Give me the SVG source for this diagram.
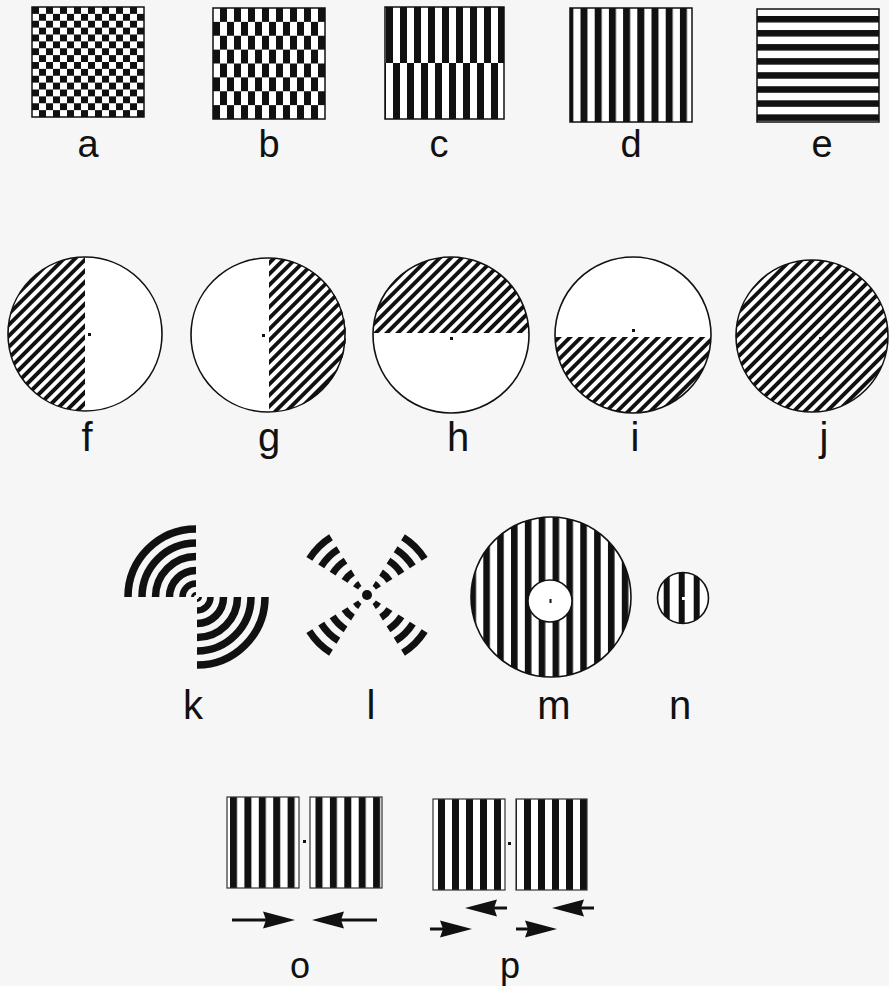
<svg xmlns="http://www.w3.org/2000/svg" width="889" height="986" viewBox="0 0 889 986">
<style>
.lbl{font-family:"Liberation Sans",Arial,sans-serif;fill:#111;text-anchor:middle}
.r1{font-size:38px}.r2{font-size:40px}.r3{font-size:40px}.r4{font-size:36px}
.box{stroke:#111;stroke-width:1.5}
.sq{stroke:#333;stroke-width:1.2}
.ring{fill:none;stroke:#111;stroke-width:7.5}
.circ{fill:none;stroke:#111;stroke-width:1.6}
.arr{stroke:#111;stroke-width:3;fill:none}
.dot{fill:#111}
</style>
<defs>
<pattern id="checkA" patternUnits="userSpaceOnUse" x="32" y="7" width="14" height="13.75">
<rect width="14" height="13.75" fill="#fff"/>
<rect width="7" height="6.875" fill="#111"/>
<rect x="7" y="6.875" width="7" height="6.875" fill="#111"/>
</pattern>
<pattern id="checkB" patternUnits="userSpaceOnUse" x="213" y="8" width="14" height="27.75">
<rect width="14" height="27.75" fill="#fff"/>
<rect x="7" width="7" height="13.875" fill="#111"/>
<rect y="13.875" width="7" height="13.875" fill="#111"/>
</pattern>
<pattern id="vsC1" patternUnits="userSpaceOnUse" x="386" y="0" width="14" height="10">
<rect width="14" height="10" fill="#fff"/><rect width="7" height="10" fill="#111"/>
</pattern>
<pattern id="vsC2" patternUnits="userSpaceOnUse" x="393" y="0" width="14" height="10">
<rect width="14" height="10" fill="#fff"/><rect width="7" height="10" fill="#111"/>
</pattern>
<pattern id="vsD" patternUnits="userSpaceOnUse" x="580.5" y="0" width="14.2" height="10">
<rect width="14.2" height="10" fill="#fff"/><rect width="7" height="10" fill="#111"/>
</pattern>
<pattern id="hsE" patternUnits="userSpaceOnUse" x="0" y="16" width="10" height="14.05">
<rect width="10" height="14.05" fill="#fff"/><rect width="10" height="6.5" fill="#111"/>
</pattern>
<pattern id="hatch" patternUnits="userSpaceOnUse" width="7.8" height="7.8" patternTransform="rotate(-45)">
<rect width="7.8" height="7.8" fill="#fff"/><rect width="7.8" height="3.9" fill="#111"/>
</pattern>
<pattern id="vsM" patternUnits="userSpaceOnUse" x="483.3" y="0" width="13.85" height="10">
<rect width="13.85" height="10" fill="#fff"/><rect width="6.6" height="10" fill="#111"/>
</pattern>
<pattern id="vsN" patternUnits="userSpaceOnUse" x="663.7" y="0" width="15" height="10">
<rect width="15" height="10" fill="#fff"/><rect width="6" height="10" fill="#111"/>
</pattern>
<pattern id="vsO1" patternUnits="userSpaceOnUse" x="230" y="0" width="14.4" height="10">
<rect width="14.4" height="10" fill="#fff"/><rect width="7" height="10" fill="#111"/>
</pattern>
<pattern id="vsO2" patternUnits="userSpaceOnUse" x="315.5" y="0" width="14.4" height="10">
<rect width="14.4" height="10" fill="#fff"/><rect width="7" height="10" fill="#111"/>
</pattern>
<pattern id="vsP1" patternUnits="userSpaceOnUse" x="438" y="0" width="14" height="10">
<rect width="14" height="10" fill="#fff"/><rect width="7" height="10" fill="#111"/>
</pattern>
<pattern id="vsP2" patternUnits="userSpaceOnUse" x="524" y="0" width="14" height="10">
<rect width="14" height="10" fill="#fff"/><rect width="7" height="10" fill="#111"/>
</pattern>
<marker id="ah" viewBox="0 0 32 18" refX="10" refY="9" markerWidth="32" markerHeight="18" markerUnits="userSpaceOnUse" orient="auto">
<path d="M0,0.5 L32,9 L0,17.5 L3,9 Z" fill="#111"/>
</marker>
<g id="quad">
<path class="ring" d="M-68,0 A68,68 0 0 1 0,-68"/>
<path class="ring" d="M-54,0 A54,54 0 0 1 0,-54"/>
<path class="ring" d="M-40.5,0 A40.5,40.5 0 0 1 0,-40.5"/>
<path class="ring" d="M-26.5,0 A26.5,26.5 0 0 1 0,-26.5"/>
<path class="ring" style="stroke-width:6.5" d="M-13.5,0 A13.5,13.5 0 0 1 0,-13.5"/>
<path class="ring" style="stroke-width:3" d="M-3.5,0 A3.5,3.5 0 0 1 0,-3.5"/>
</g>
<g id="arm">
<path class="ring" style="stroke-width:7" d="M57.67,36.03 A68,68 0 0 1 36.03,57.67"/>
<path class="ring" style="stroke-width:7" d="M45.79,28.62 A54,54 0 0 1 28.62,45.79"/>
<path class="ring" style="stroke-width:7" d="M34.35,21.46 A40.5,40.5 0 0 1 21.46,34.35"/>
<path class="ring" style="stroke-width:7" d="M22.47,14.04 A26.5,26.5 0 0 1 14.04,22.47"/>
<path class="ring" style="stroke-width:6" d="M11.45,7.15 A13.5,13.5 0 0 1 7.15,11.45"/>
</g>
</defs>
<rect width="889" height="986" fill="#f6f6f6"/>

<g id="node-a">
<rect class="box" x="32" y="7" width="112" height="110" fill="url(#checkA)"/>
<text class="lbl r1" x="88" y="157">a</text>
</g>
<g id="node-b">
<rect class="box" x="213" y="8" width="112" height="111" fill="url(#checkB)"/>
<text class="lbl r1" x="269" y="157">b</text>
</g>
<g id="node-c">
<rect x="385" y="7" width="119" height="56" fill="url(#vsC1)"/>
<rect x="385" y="63" width="119" height="56" fill="url(#vsC2)"/>
<rect class="box" x="385" y="7" width="119" height="112" fill="none"/>
<text class="lbl r1" x="439" y="157">c</text>
</g>
<g id="node-d">
<rect class="box" x="570" y="8" width="122" height="114" fill="url(#vsD)"/>
<text class="lbl r1" x="631" y="157">d</text>
</g>
<g id="node-e">
<rect class="box" x="757" y="9" width="122" height="113" fill="url(#hsE)"/>
<text class="lbl r1" x="822" y="157">e</text>
</g>

<g id="node-f">
<circle cx="85" cy="334" r="77" fill="#fff"/>
<path d="M85,257 A77,77 0 0 0 85,411 Z" fill="url(#hatch)"/>
<circle class="circ" cx="85" cy="334" r="77"/>
<rect class="dot" x="88" y="333" width="3" height="3"/>
<text class="lbl r2" x="87" y="451">f</text>
</g>
<g id="node-g">
<circle cx="268" cy="335" r="77" fill="#fff"/>
<path d="M269,258 A77,77 0 0 1 269,412 Z" fill="url(#hatch)"/>
<circle class="circ" cx="268" cy="335" r="77"/>
<rect class="dot" x="262" y="334" width="3" height="3"/>
<text class="lbl r2" x="269" y="451">g</text>
</g>
<g id="node-h">
<circle cx="451" cy="335" r="78" fill="#fff"/>
<path d="M373.03,333 A78,78 0 0 1 528.97,333 Z" fill="url(#hatch)"/>
<circle class="circ" cx="451" cy="335" r="78"/>
<rect class="dot" x="450" y="337" width="3" height="3"/>
<text class="lbl r2" x="458" y="451">h</text>
</g>
<g id="node-i">
<circle cx="633" cy="335" r="78" fill="#fff"/>
<path d="M710.97,337 A78,78 0 0 1 555.03,337 Z" fill="url(#hatch)"/>
<circle class="circ" cx="633" cy="335" r="78"/>
<rect class="dot" x="632" y="329" width="3" height="3"/>
<text class="lbl r2" x="635" y="451">i</text>
</g>
<g id="node-j">
<circle cx="812" cy="336" r="76" fill="url(#hatch)"/>
<circle class="circ" cx="812" cy="336" r="76"/>
<rect class="dot" x="819" y="337" width="3" height="3"/>
<text class="lbl r2" x="824" y="451">j</text>
</g>

<g id="node-k">
<use href="#quad" transform="translate(196,597)"/>
<use href="#quad" transform="translate(197,597) rotate(180)"/>
<text class="lbl r3" x="193" y="719">k</text>
</g>
<g id="node-l">
<use href="#arm" transform="translate(367,595)"/>
<use href="#arm" transform="translate(367,595) rotate(90)"/>
<use href="#arm" transform="translate(367,595) rotate(180)"/>
<use href="#arm" transform="translate(367,595) rotate(270)"/>
<circle cx="367" cy="595" r="5" fill="#111"/>
<text class="lbl r3" x="371" y="719">l</text>
</g>
<g id="node-m">
<circle cx="551" cy="597" r="80" fill="url(#vsM)"/>
<circle class="circ" cx="551" cy="597" r="80"/>
<ellipse cx="550" cy="601" rx="22" ry="21" fill="#fff" stroke="#111" stroke-width="1.5"/>
<rect class="dot" x="549.5" y="599" width="2" height="4"/>
<text class="lbl r3" x="554" y="719">m</text>
</g>
<g id="node-n">
<circle cx="683" cy="598" r="25.5" fill="url(#vsN)"/>
<circle class="circ" cx="683" cy="598" r="25.5"/>
<rect x="682" y="597" width="3" height="3" fill="#fff"/>
<text class="lbl r3" x="680" y="719">n</text>
</g>

<g id="node-o">
<rect class="sq" x="227" y="797" width="72" height="91" fill="url(#vsO1)"/>
<rect class="sq" x="310" y="797" width="72" height="91" fill="url(#vsO2)"/>
<rect class="dot" x="303" y="840" width="3" height="3"/>
<text class="lbl r4" x="300" y="978">o</text>
</g>
<g id="node-p">
<rect class="sq" x="433" y="799" width="72" height="91" fill="url(#vsP1)"/>
<rect class="sq" x="516" y="799" width="71" height="91" fill="url(#vsP2)"/>
<rect class="dot" x="508" y="842" width="3" height="3"/>
<text class="lbl r4" x="510" y="978">p</text>
</g>

<g id="connectors">
<line class="arr" x1="232" y1="920" x2="273" y2="920" marker-end="url(#ah)"/>
<line class="arr" x1="377" y1="920" x2="334" y2="920" marker-end="url(#ah)"/>
<line class="arr" x1="507" y1="908" x2="487" y2="908" marker-end="url(#ah)"/>
<line class="arr" x1="594" y1="908" x2="574" y2="908" marker-end="url(#ah)"/>
<line class="arr" x1="430" y1="929" x2="450" y2="929" marker-end="url(#ah)"/>
<line class="arr" x1="516" y1="929" x2="535" y2="929" marker-end="url(#ah)"/>
</g>
</svg>
